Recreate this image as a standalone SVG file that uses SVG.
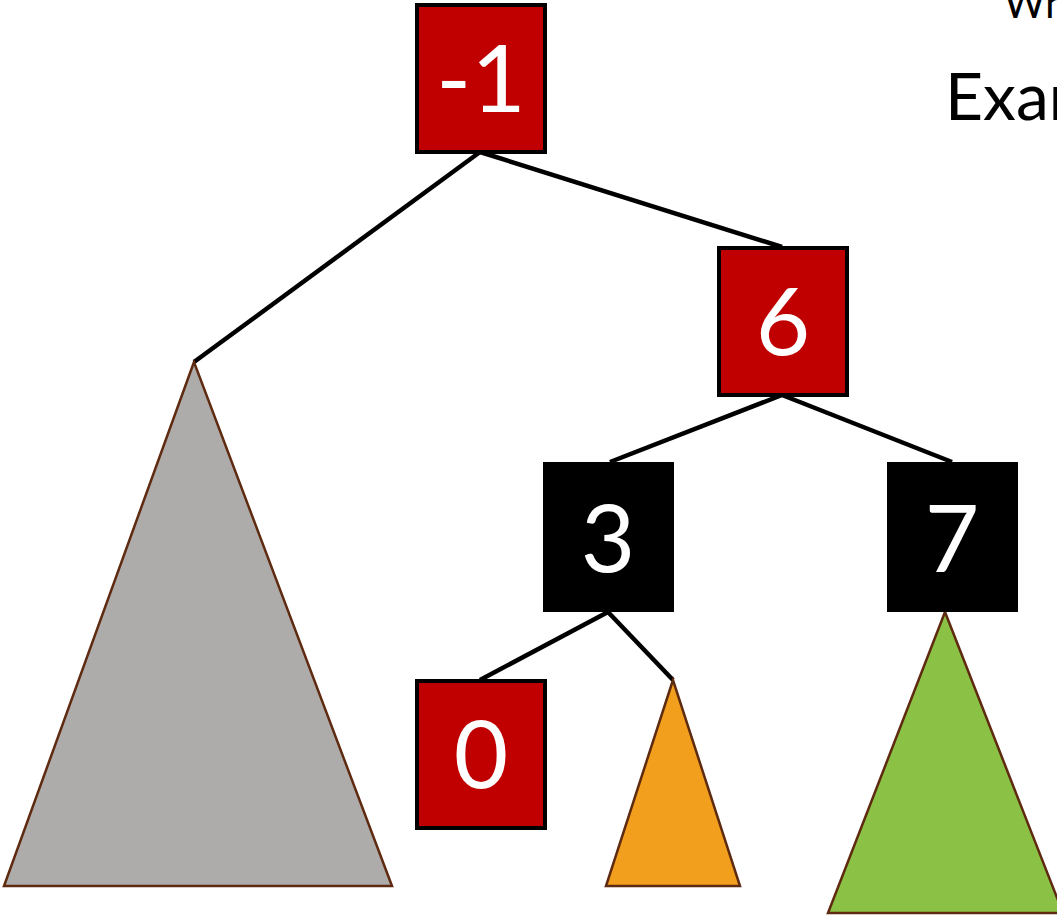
<svg xmlns="http://www.w3.org/2000/svg" width="1057" height="916" viewBox="0 0 1057 916">
<style>
.red{fill:#C00000;stroke:#000;stroke-width:4}
.blk{fill:#000}
.num{font-family:Lato,"Open Sans",sans-serif;font-size:94px;fill:#fff;text-anchor:middle}
.edge{stroke:#000;stroke-width:4.5;fill:none}
.tri{stroke:#5E2A10;stroke-width:2.5}
.title{font-family:Lato,"Open Sans",sans-serif;fill:#000}
</style>
<rect width="1057" height="916" fill="#fff"/>
<g id="connectors">
<line class="edge" x1="480" y1="152" x2="194" y2="362"/>
<line class="edge" x1="480" y1="152" x2="782" y2="247"/>
<line class="edge" x1="782" y1="395" x2="610" y2="462"/>
<line class="edge" x1="782" y1="395" x2="952" y2="462"/>
<line class="edge" x1="608" y1="612" x2="480" y2="680"/>
<line class="edge" x1="608" y1="612" x2="673" y2="680"/>
</g>
<g id="tri-gray"><polygon class="tri" fill="#AEABAB" points="194,362 4,886 392,886"/></g>
<g id="tri-orange"><polygon class="tri" fill="#F29F1D" points="673,680 606,886 740,886"/></g>
<g id="tri-green"><polygon class="tri" fill="#8BC145" points="945,612 828,913 1063,913"/></g>
<g id="node-m1"><rect class="red" x="417" y="5" width="128" height="147"/><text class="num" x="481" y="112">-1</text></g>
<g id="node-6"><rect class="red" x="719" y="248" width="128" height="147"/><text class="num" x="783" y="355">6</text></g>
<g id="node-3"><rect class="blk" x="543" y="462" width="131" height="150"/><text class="num" x="608" y="572">3</text></g>
<g id="node-7"><rect class="blk" x="887" y="462" width="131" height="150"/><text class="num" x="952" y="572">7</text></g>
<g id="node-0"><rect class="red" x="417" y="681" width="128" height="147"/><text class="num" x="481" y="788">0</text></g>
<g id="title">
<text class="title" x="1004" y="18" font-size="40">Wh</text>
<text class="title" x="945" y="120" font-size="66">Exam</text>
</g>
</svg>
